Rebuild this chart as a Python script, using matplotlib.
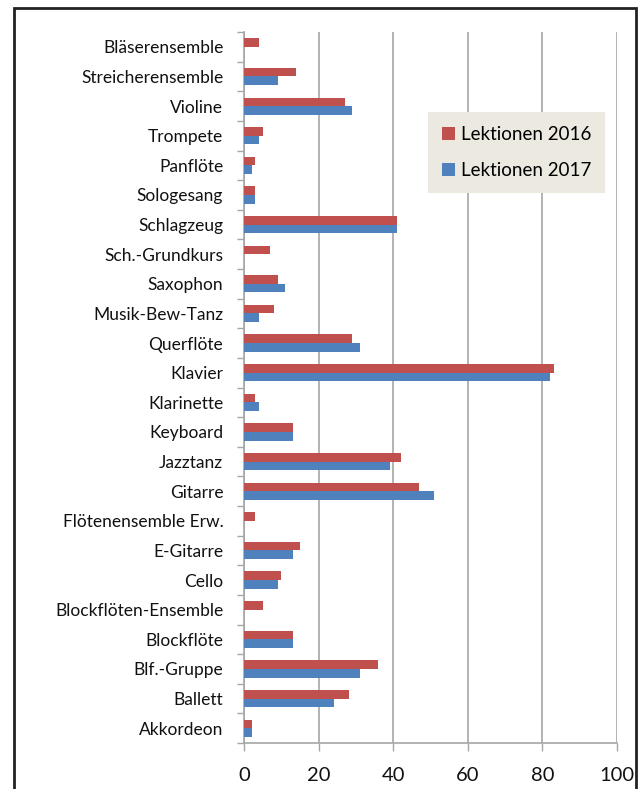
import matplotlib
matplotlib.use('Agg')
import matplotlib.pyplot as plt
import matplotlib.patches as mpatches
from matplotlib.ticker import MultipleLocator, FixedLocator

plt.rcParams['font.family'] = ['Lato', 'DejaVu Sans']

# Kategorien von unten nach oben
instrumente = ['Akkordeon', 'Ballett', 'Blf.-Gruppe', 'Blockflöte', 'Blockflöten-Ensemble',
               'Cello', 'E-Gitarre', 'Flötenensemble Erw.', 'Gitarre', 'Jazztanz',
               'Keyboard', 'Klarinette', 'Klavier', 'Querflöte', 'Musik-Bew-Tanz',
               'Saxophon', 'Sch.-Grundkurs', 'Schlagzeug', 'Sologesang', 'Panflöte',
               'Trompete', 'Violine', 'Streicherensemble', 'Bläserensemble']
lekt_2016 = [2, 28, 36, 13, 5, 10, 15, 3, 47, 42, 13, 3, 83, 29, 8, 9, 7, 41, 3, 3, 5, 27, 14, 4]
lekt_2017 = [2, 24, 31, 13, 0, 9, 13, 0, 51, 39, 13, 4, 82, 31, 4, 11, 0, 41, 3, 2, 4, 29, 9, 0]

rot = '#C0504D'
blau = '#4F81BD'
grau = '#A6A6A6'

fig = plt.figure(figsize=(6.39, 7.89), dpi=100)
ax = fig.add_axes([0.382, 0.0583, 0.5836, 0.9011])

y = list(range(len(instrumente)))
h = 0.29
ax.barh([v + h / 2 for v in y], lekt_2016, height=h, color=rot, label='Lektionen 2016', zorder=3)
ax.barh([v - h / 2 for v in y], lekt_2017, height=h, color=blau, label='Lektionen 2017', zorder=3)

ax.set_xlim(0, 100)
ax.set_ylim(-0.5, len(instrumente) - 0.5)
ax.xaxis.set_major_locator(MultipleLocator(20))
ax.set_yticks(y)
ax.set_yticklabels(instrumente, fontsize=12.5, color='#111111')
ax.yaxis.set_minor_locator(FixedLocator([v - 0.5 for v in range(len(instrumente) + 1)]))
ax.tick_params(axis='y', which='major', length=0, pad=15)
ax.tick_params(axis='y', which='minor', length=5, color=grau, width=1)
ax.tick_params(axis='x', length=6, color=grau, width=1, labelsize=14.5, pad=11, labelcolor='#111111')

ax.grid(axis='x', color=grau, linewidth=1.2, zorder=0)
for s in ['top', 'right']:
    ax.spines[s].set_visible(False)
for s in ['left', 'bottom']:
    ax.spines[s].set_color(grau)
    ax.spines[s].set_linewidth(1.2)

leg = ax.legend(loc='upper left', bbox_to_anchor=(428 / 639, 1 - 112 / 789),
                bbox_transform=fig.transFigure, fontsize=13.5, frameon=True,
                handlelength=0.7, handleheight=0.7, handletextpad=0.3,
                labelspacing=1.0, borderpad=0.75, borderaxespad=0, fancybox=False)
leg.get_frame().set_facecolor('#ECE9E0')
leg.get_frame().set_edgecolor('none')
leg.get_frame().set_alpha(1)

rahmen = mpatches.Rectangle((14 / 639, -0.1), (636 - 14) / 639, 1.1 - 8 / 789,
                            transform=fig.transFigure, fill=False, edgecolor='#222222',
                            linewidth=2, clip_on=False)
fig.patches.append(rahmen)

fig.savefig('out.png', dpi=100)
